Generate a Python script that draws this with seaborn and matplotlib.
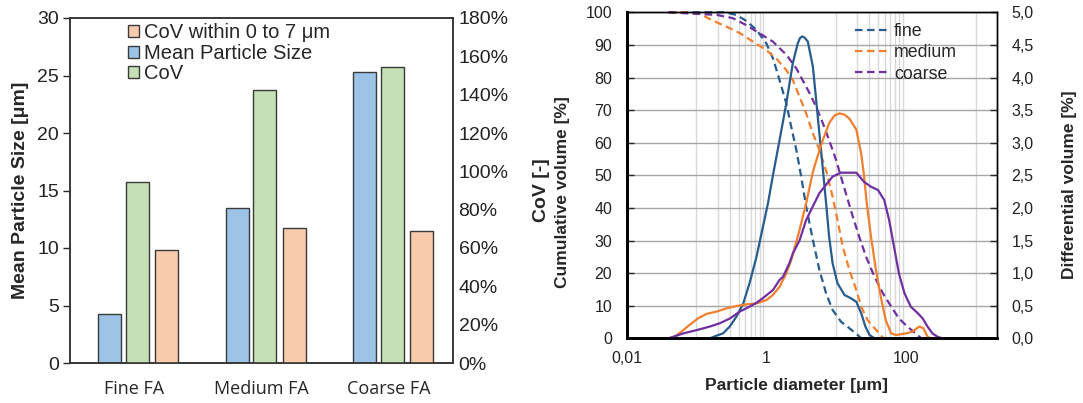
import numpy as np
import matplotlib
matplotlib.use("Agg")
import matplotlib.pyplot as plt
from matplotlib.patches import Patch
from matplotlib.lines import Line2D
from matplotlib.ticker import FixedLocator, NullFormatter
import seaborn as sns

# ---------------- bar chart data ----------------
samples = ["Fine FA", "Medium FA", "Coarse FA"]
mean_size_um = [4.25, 13.45, 25.3]      # left axis, µm
cov_pct = [94.6, 142.4, 154.3]          # right axis, %
cov_0_7_pct = [59.0, 70.3, 68.9]        # right axis, %

# ---------------- particle size distributions ----------------
# differential volume [%] (solid lines)
fine_diff_d = [0.04, 0.155, 0.193, 0.24, 0.299, 0.372, 0.468, 0.575, 0.724, 0.895, 1.057,
               1.245, 1.549, 1.932, 2.399, 2.818, 3.02, 3.266, 3.55, 3.936, 4.645, 5.176,
               5.754, 6.457, 7.194, 7.943, 8.913, 10.47, 13.18, 16.22, 19.5, 22.9, 26.3,
               30.2, 35.5, 2000]
fine_diff_v = [0, 0, 0.04, 0.075, 0.18, 0.33, 0.535, 0.845, 1.25, 1.71, 2.07,
               2.5, 3.04, 3.6, 4.22, 4.52, 4.6, 4.63, 4.61, 4.55, 4.17, 3.66,
               3.15, 2.6, 2.07, 1.56, 1.15, 0.845, 0.665, 0.615, 0.56, 0.385, 0.18,
               0.05, 0, 0]

medium_diff_d = [0.04, 0.049, 0.0646, 0.0794, 0.105, 0.139, 0.195, 0.269, 0.372, 0.513, 0.724,
                 1.0, 1.245, 1.549, 1.932, 2.275, 2.692, 2.992, 3.724, 4.645, 5.176, 6.457,
                 7.943, 9.55, 11.22, 13.2, 15.49, 19.5, 22.9, 25.1, 27.5, 31.6, 37.2, 43.7,
                 51.3, 61.7, 72.4, 100, 123, 155, 178, 204, 229, 2000]
medium_diff_v = [0, 0.025, 0.125, 0.205, 0.305, 0.375, 0.41, 0.46, 0.495, 0.52, 0.535,
                 0.585, 0.665, 0.79, 0.995, 1.2, 1.48, 1.66, 2.07, 2.55, 2.72, 3.04,
                 3.3, 3.42, 3.45, 3.43, 3.37, 3.2, 2.83, 2.5, 2.07, 1.56, 1.05, 0.64,
                 0.28, 0.075, 0.05, 0.075, 0.1, 0.18, 0.155, 0.025, 0, 0]

coarse_diff_d = [0.04, 0.0646, 0.1, 0.155, 0.215, 0.302, 0.417, 0.575, 0.724, 0.891, 1.245,
                 1.549, 1.738, 2.138, 2.399, 2.992, 3.724, 5.754, 8.913, 11.75, 19.5, 25.1,
                 31.6, 39.8, 49, 57.5, 67.6, 79.4, 95.5, 117.5, 148, 174, 204, 240, 282, 331, 2000]
coarse_diff_v = [0, 0.075, 0.125, 0.18, 0.23, 0.305, 0.41, 0.485, 0.545, 0.615, 0.74,
                 0.895, 0.945, 1.15, 1.3, 1.5, 1.815, 2.225, 2.48, 2.54, 2.54, 2.4,
                 2.325, 2.275, 2.12, 1.815, 1.405, 0.995, 0.69, 0.485, 0.385, 0.305, 0.18,
                 0.075, 0.025, 0, 0]

# cumulative volume [%] (dashed lines)
fine_cum_d = [0.04, 0.251, 0.372, 0.513, 0.724, 1.0, 1.245, 1.549, 1.932, 2.275, 2.692,
              3.162, 3.724, 4.645, 5.754, 7.194, 8.913, 11.75, 15.49, 20.4, 22.9]
fine_cum_v = [100, 100, 99.2, 97.4, 94.6, 90.5, 85.9, 79.2, 72.1, 64.9, 57.8,
              49.6, 40.4, 30.2, 21, 13.8, 8.7, 5.1, 3.1, 1.0, 0]

medium_cum_d = [0.04, 0.0646, 0.112, 0.174, 0.269, 0.417, 0.646, 1.0, 1.38, 1.932, 2.399,
                2.992, 3.724, 4.645, 5.754, 7.413, 8.913, 10.47, 12.45, 15.49, 19.5, 22.9,
                28.2, 35.5, 41.7, 47.9]
medium_cum_v = [100, 100, 99.5, 97.4, 95.6, 93.6, 91, 88.4, 85.9, 82.3, 79.2,
                74.1, 69, 62.9, 57.8, 50.5, 43.4, 36.3, 28.1, 21, 14.8, 9.7,
                5.6, 3.1, 1.5, 0]

coarse_cum_d = [0.04, 0.195, 0.331, 0.513, 0.794, 1.245, 1.932, 2.692, 3.311, 4.169, 5.176,
                6.457, 7.943, 10, 11.22, 13.8, 17.38, 21.4, 26.9, 35.5, 46.8, 61.7, 79.4,
                104.7, 138, 166]
coarse_cum_v = [100, 99.2, 98.2, 96.1, 93.6, 91, 87, 82.8, 79.2, 75.2, 71,
                66, 60.8, 54.7, 51, 44.5, 37.3, 31.2, 25, 18.9, 13.8, 9.7, 6.1,
                3.6, 1.5, 0]

psd_names = ["fine", "medium", "coarse"]

# ---------------- style ----------------
sns.set_style("white")
plt.rcParams["font.family"] = ["Liberation Sans", "DejaVu Sans"]
plt.rcParams["axes.edgecolor"] = "black"

BLUE_BAR, GREEN_BAR, ORANGE_BAR = "#9DC3E6", "#C5E0B4", "#F8CBAD"
BAR_EDGE = "#3a3a3a"
LINE_COLORS = {"fine": "#265C8E", "medium": "#F07F2E", "coarse": "#7030A0"}
DASH = (0, (3.4, 2.0))

W, H = 1083, 403
fig = plt.figure(figsize=(W / 100, H / 100), dpi=100)


def box(left, top, right, bottom):
    return [left / W, 1 - bottom / H, (right - left) / W, (bottom - top) / H]


# ================= left panel: bars =================
ax_b = fig.add_axes(box(70, 18, 453, 363))
ax_b2 = ax_b.twinx()

idx = np.arange(len(samples))
bar_w = 0.18
bar_kw = dict(orient="x", native_scale=True, width=bar_w, errorbar=None,
              saturation=1, edgecolor=BAR_EDGE, linewidth=1.0)
sns.barplot(x=idx - 0.19, y=mean_size_um, color=BLUE_BAR, ax=ax_b, **bar_kw)
sns.barplot(x=idx + 0.025, y=cov_pct, color=GREEN_BAR, ax=ax_b2, **bar_kw)
sns.barplot(x=idx + 0.255, y=cov_0_7_pct, color=ORANGE_BAR, ax=ax_b2, **bar_kw)

ax_b.set_xlim(-0.5, len(samples) - 0.5)
ax_b.set_xticks(idx)
ax_b.set_xticklabels(samples, family=["Open Sans", "DejaVu Sans"], fontsize=13)
ax_b.tick_params(axis="x", length=0, pad=12)
ax_b.set_ylim(0, 30)
ax_b.set_yticks(np.arange(0, 31, 5))
ax_b.tick_params(axis="y", direction="out", length=5, width=1, pad=3, labelsize=14,
                 left=True, labelcolor="#222222")
ax_b.set_ylabel("Mean Particle Size [μm]", fontsize=14, fontweight="bold")
ax_b.yaxis.set_label_coords(-0.1305, 0.5)
ax_b.yaxis.label.set_va("center")

ax_b2.set_ylim(0, 180)
ax_b2.set_yticks(np.arange(0, 181, 20))
ax_b2.set_yticklabels([f"{v}%" for v in range(0, 181, 20)])
ax_b2.tick_params(axis="y", length=0, pad=4, labelsize=14, labelcolor="#222222")
ax_b2.set_ylabel("CoV [-]", fontsize=14, fontweight="bold")
ax_b2.yaxis.set_label_coords(1.2298, 0.5)
ax_b2.yaxis.label.set_va("center")

for a in (ax_b, ax_b2):
    for s in a.spines.values():
        s.set_visible(True)
        s.set_linewidth(1.1)
        s.set_color("#333333")

bar_handles = [Patch(facecolor=ORANGE_BAR, edgecolor=BAR_EDGE, linewidth=1.0),
               Patch(facecolor=BLUE_BAR, edgecolor=BAR_EDGE, linewidth=1.0),
               Patch(facecolor=GREEN_BAR, edgecolor=BAR_EDGE, linewidth=1.0)]
bar_labels = ["CoV within 0 to 7 μm", "Mean Particle Size", "CoV"]
ax_b2.legend(bar_handles, bar_labels, loc="upper left", bbox_to_anchor=(0.152, 0.985),
             frameon=False, fontsize=14.5, handlelength=0.55, handleheight=0.55,
             handletextpad=0.25, labelspacing=0.08, borderpad=0, borderaxespad=0)

# ================= right panel: size distributions =================
ax_r = fig.add_axes(box(626.7, 12.3, 996.7, 338.3))
ax_d = ax_r.twinx()
ax_r.set_xscale("log")
ax_d.set_xscale("log")

cum_series = [(fine_cum_d, fine_cum_v), (medium_cum_d, medium_cum_v), (coarse_cum_d, coarse_cum_v)]
diff_series = [(fine_diff_d, fine_diff_v), (medium_diff_d, medium_diff_v), (coarse_diff_d, coarse_diff_v)]

for name, (d, v) in zip(psd_names, cum_series):
    sns.lineplot(x=d, y=v, ax=ax_r, color=LINE_COLORS[name], linewidth=1.6,
                 linestyle=DASH, estimator=None, sort=False, clip_on=False)
for name, (d, v) in zip(psd_names, diff_series):
    sns.lineplot(x=d, y=v, ax=ax_d, color=LINE_COLORS[name], linewidth=1.6,
                 estimator=None, sort=False, clip_on=False,
                 solid_joinstyle="round", solid_capstyle="round")

ax_r.set_xlim(0.01, 2000)
ax_r.set_ylim(0, 100)
ax_d.set_ylim(0, 5)

ax_r.set_xticks([0.01, 0.1, 1, 10, 100, 1000])
ax_r.set_xticklabels(["0,01", "", "1", "", "100", ""])
minor_pos = [k / 10 for k in range(1, 10)] + [k * 10 for k in range(1, 10)] + [1000]
ax_r.xaxis.set_minor_locator(FixedLocator(minor_pos))
ax_r.xaxis.set_minor_formatter(NullFormatter())
ax_r.xaxis.remove_overlapping_locs = False
ax_r.tick_params(axis="x", which="major", direction="in", length=4, width=1.2, pad=9,
                 labelsize=11.5, labelcolor="#222222")
ax_r.tick_params(axis="x", which="minor", direction="in", length=3, width=1.0)

ax_r.set_yticks(np.arange(0, 101, 10))
ax_r.tick_params(axis="y", direction="in", length=5, width=1, pad=10.5, labelsize=11.5,
                 labelcolor="#222222")
ax_d.set_yticks(np.arange(0, 5.01, 0.5))
ax_d.set_yticklabels([f"{v:.1f}".replace(".", ",") for v in np.arange(0, 5.01, 0.5)])
ax_d.tick_params(axis="y", direction="in", length=5, width=1, pad=10.5, labelsize=11.5,
                 labelcolor="#222222")

ax_r.set_axisbelow(True)
ax_r.grid(axis="y", which="major", color="#a6a6a6", linewidth=1.0)
ax_r.grid(axis="x", which="minor", color="#d9d9d9", linewidth=1.0)
ax_r.grid(axis="x", which="major", visible=False)

for a in (ax_r, ax_d):
    for side, s in a.spines.items():
        s.set_visible(True)
        s.set_color("black")
        s.set_linewidth(2.0 if side in ("left", "bottom") else 1.0)

ax_r.set_ylabel("Cumulative volume [%]", fontsize=12.5, fontweight="bold")
ax_r.yaxis.set_label_coords(-0.173, 0.449)
ax_r.yaxis.label.set_va("center")
ax_d.set_ylabel("Differential volume [%]", fontsize=12.5, fontweight="bold")
ax_d.yaxis.set_label_coords(1.198, 0.47)
ax_d.yaxis.label.set_va("center")
ax_r.set_xlabel("Particle diameter [μm]", fontsize=12.5, fontweight="bold")
ax_r.xaxis.set_label_coords(0.46, -0.146)
ax_r.xaxis.label.set_va("center")

psd_handles = [Line2D([], [], color=LINE_COLORS[n], linewidth=1.6, linestyle=DASH) for n in psd_names]
ax_d.legend(psd_handles, psd_names, loc="upper left", bbox_to_anchor=(0.617, 0.966),
            frameon=False, fontsize=12.8, handlelength=1.9, handletextpad=0.3,
            labelspacing=0.23, borderpad=0, borderaxespad=0)

fig.savefig("out.png", dpi=100)
